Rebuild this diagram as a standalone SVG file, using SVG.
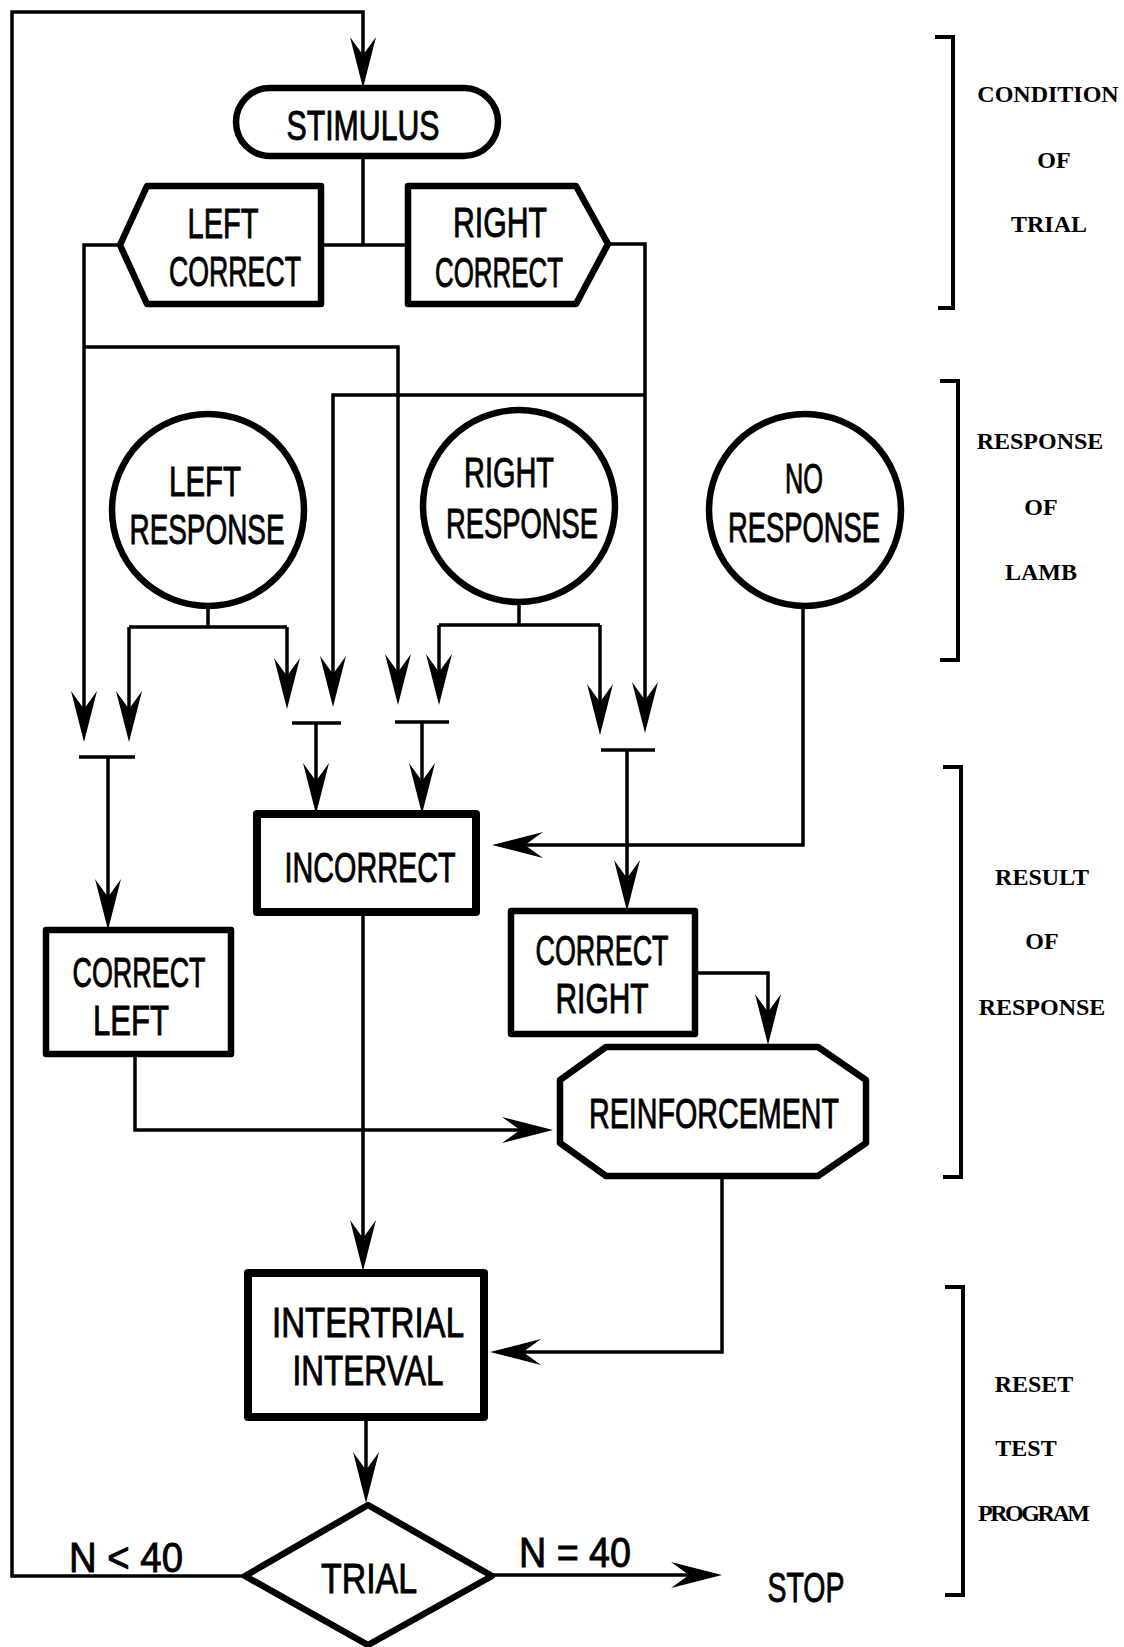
<svg xmlns="http://www.w3.org/2000/svg" width="1124" height="1647" viewBox="0 0 1124 1647">
<style>
.node{fill:#fff;stroke:#000;stroke-width:6.5;stroke-linejoin:round}
.thick{stroke-width:8}
.t{font-family:"Liberation Sans",Arial,sans-serif;font-size:42px;fill:#000;stroke:#000;stroke-width:0.9;text-anchor:middle}
.lab{font-family:"Liberation Serif","Times New Roman",serif;font-weight:bold;font-size:24px;fill:#000;text-anchor:middle}
.c{fill:none;stroke:#000;stroke-width:3.5;stroke-linejoin:miter}
.br{fill:none;stroke:#000;stroke-width:4}
</style>
<defs>
<marker id="ah" viewBox="-46 -15 56 30" markerWidth="56" markerHeight="30" refX="0" refY="0" orient="auto" markerUnits="userSpaceOnUse">
<path d="M8,0 L-43,-13 L-25,0 L-43,13 Z" fill="#000"/>
</marker>
</defs>
<rect width="1124" height="1647" fill="#fff"/>

<g id="connectors">
<path class="c" d="M245,1576 L12,1576 L12,12 L363,12 L363,80" marker-end="url(#ah)"/>
<path class="c" d="M363,156 L363,245 M321,245 L408,245"/>
<path class="c" d="M120,245 L84,245 L84,734" marker-end="url(#ah)"/>
<path class="c" d="M84,347 L398,347 L398,697" marker-end="url(#ah)"/>
<path class="c" d="M608,244 L645,244 L645,725" marker-end="url(#ah)"/>
<path class="c" d="M645,395 L333,395 L333,699" marker-end="url(#ah)"/>
<path class="c" d="M208,606 L208,627 M129,627 L287,627"/>
<path class="c" d="M129,627 L129,734" marker-end="url(#ah)"/>
<path class="c" d="M287,627 L287,701" marker-end="url(#ah)"/>
<path class="c" d="M519,602 L519,625 M439,625 L600,625"/>
<path class="c" d="M439,625 L439,697" marker-end="url(#ah)"/>
<path class="c" d="M600,625 L600,727" marker-end="url(#ah)"/>
<path class="c" d="M79,757 L135,757 M292,723 L341,723 M395,722 L449,722 M601,750 L655,750"/>
<path class="c" d="M108,757 L108,922" marker-end="url(#ah)"/>
<path class="c" d="M316,723 L316,806" marker-end="url(#ah)"/>
<path class="c" d="M422,722 L422,806" marker-end="url(#ah)"/>
<path class="c" d="M627,750 L627,903" marker-end="url(#ah)"/>
<path class="c" d="M803,607 L803,845 L500,845" marker-end="url(#ah)"/>
<path class="c" d="M695,973 L768,973 L768,1037" marker-end="url(#ah)"/>
<path class="c" d="M135,1054 L135,1130 L545,1130" marker-end="url(#ah)"/>
<path class="c" d="M363,912 L363,1263" marker-end="url(#ah)"/>
<path class="c" d="M722,1176 L722,1352 L498,1352" marker-end="url(#ah)"/>
<path class="c" d="M366,1417 L366,1495" marker-end="url(#ah)"/>
<path class="c" d="M492,1575 L714,1575" marker-end="url(#ah)"/>
</g>

<g id="stimulus">
<rect class="node" x="236" y="88" width="262" height="68" rx="34" ry="34"/>
<text class="t" x="363" y="140" textLength="153" lengthAdjust="spacingAndGlyphs">STIMULUS</text>
</g>
<g id="left-correct">
<polygon class="node" points="120,245 147,186 321,186 321,304 147,304"/>
<text class="t" x="223" y="238" textLength="71" lengthAdjust="spacingAndGlyphs">LEFT</text>
<text class="t" x="235" y="286" textLength="132" lengthAdjust="spacingAndGlyphs">CORRECT</text>
</g>
<g id="right-correct">
<polygon class="node" points="408,186 576,186 608,244 576,304 408,304"/>
<text class="t" x="500" y="237" textLength="94" lengthAdjust="spacingAndGlyphs">RIGHT</text>
<text class="t" x="499" y="287" textLength="128" lengthAdjust="spacingAndGlyphs">CORRECT</text>
</g>
<g id="left-response">
<circle class="node" cx="208" cy="510" r="96"/>
<text class="t" x="205" y="496" textLength="72" lengthAdjust="spacingAndGlyphs">LEFT</text>
<text class="t" x="207" y="544" textLength="155" lengthAdjust="spacingAndGlyphs">RESPONSE</text>
</g>
<g id="right-response">
<circle class="node" cx="519" cy="506" r="96"/>
<text class="t" x="509" y="487" textLength="90" lengthAdjust="spacingAndGlyphs">RIGHT</text>
<text class="t" x="522" y="538" textLength="152" lengthAdjust="spacingAndGlyphs">RESPONSE</text>
</g>
<g id="no-response">
<circle class="node" cx="805" cy="510" r="96"/>
<text class="t" x="804" y="493" textLength="38" lengthAdjust="spacingAndGlyphs">NO</text>
<text class="t" x="804" y="542" textLength="152" lengthAdjust="spacingAndGlyphs">RESPONSE</text>
</g>
<g id="incorrect">
<rect class="node thick" x="257" y="814" width="219" height="98"/>
<text class="t" x="370" y="882" textLength="171" lengthAdjust="spacingAndGlyphs">INCORRECT</text>
</g>
<g id="correct-left">
<rect class="node" x="46" y="930" width="185" height="124"/>
<text class="t" x="139" y="987" textLength="133" lengthAdjust="spacingAndGlyphs">CORRECT</text>
<text class="t" x="131" y="1035" textLength="76" lengthAdjust="spacingAndGlyphs">LEFT</text>
</g>
<g id="correct-right">
<rect class="node" x="511" y="911" width="184" height="123"/>
<text class="t" x="602" y="965" textLength="133" lengthAdjust="spacingAndGlyphs">CORRECT</text>
<text class="t" x="602" y="1013" textLength="93" lengthAdjust="spacingAndGlyphs">RIGHT</text>
</g>
<g id="reinforcement">
<polygon class="node" points="606,1047 818,1047 866,1080 866,1143 818,1176 606,1176 560,1143 560,1080"/>
<text class="t" x="714" y="1128" textLength="250" lengthAdjust="spacingAndGlyphs">REINFORCEMENT</text>
</g>
<g id="intertrial-interval">
<rect class="node thick" x="248" y="1273" width="236" height="144"/>
<text class="t" x="368" y="1337" textLength="192" lengthAdjust="spacingAndGlyphs">INTERTRIAL</text>
<text class="t" x="368" y="1385" textLength="151" lengthAdjust="spacingAndGlyphs">INTERVAL</text>
</g>
<g id="trial">
<polygon class="node" points="368,1505 492,1576 368,1645 245,1576"/>
<text class="t" x="369" y="1593" textLength="96" lengthAdjust="spacingAndGlyphs">TRIAL</text>
</g>
<g id="edge-labels">
<text class="t" x="126" y="1572" textLength="114" lengthAdjust="spacingAndGlyphs">N &lt; 40</text>
<text class="t" x="575" y="1567" textLength="112" lengthAdjust="spacingAndGlyphs">N = 40</text>
<text class="t" x="806" y="1602" textLength="77" lengthAdjust="spacingAndGlyphs">STOP</text>
</g>

<g id="phase-labels">
<path class="br" d="M935,37 L953,37 L953,308 L938,308"/>
<text class="lab" x="1048" y="102">CONDITION</text>
<text class="lab" x="1054" y="168">OF</text>
<text class="lab" x="1049" y="232">TRIAL</text>
<path class="br" d="M940,381 L958,381 L958,660 L940,660"/>
<text class="lab" x="1040" y="449">RESPONSE</text>
<text class="lab" x="1041" y="515">OF</text>
<text class="lab" x="1041" y="580">LAMB</text>
<path class="br" d="M943,767 L961,767 L961,1177 L943,1177"/>
<text class="lab" x="1042" y="885">RESULT</text>
<text class="lab" x="1042" y="949">OF</text>
<text class="lab" x="1042" y="1015">RESPONSE</text>
<path class="br" d="M945,1287 L963,1287 L963,1595 L945,1595"/>
<text class="lab" x="1034" y="1392">RESET</text>
<text class="lab" x="1026" y="1456">TEST</text>
<text class="lab" x="1034" y="1521" textLength="112">PROGRAM</text>
</g>
</svg>
